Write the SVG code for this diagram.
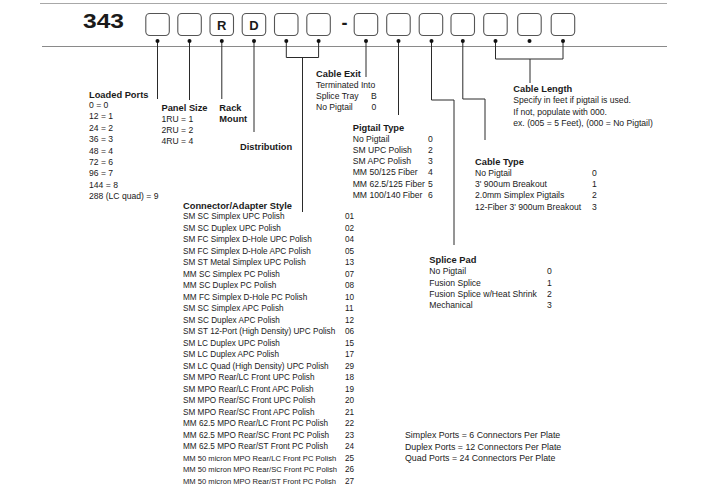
<svg xmlns="http://www.w3.org/2000/svg" width="713" height="492" viewBox="0 0 713 492">
<style>
text{font-family:"Liberation Sans",Arial,Helvetica,sans-serif;fill:#1a1a1a}
.t{font-size:9.3px;font-weight:bold}
.b{font-size:8.6px}
.c{font-size:8.2px}
.cs{font-size:7.6px}
.n{font-size:8.8px}
.box{fill:#fff;stroke:#555;stroke-width:1.1}
.bl{font-size:13px;font-weight:bold;text-anchor:middle}
.ln{fill:none;stroke:#2a2a2a;stroke-width:1}
.dot{fill:#111}
</style>
<rect width="713" height="492" fill="#fff"/>
<g id="rules">
<line x1="40" y1="3.5" x2="667" y2="3.5" stroke="#a8a8a8" stroke-width="1"/>
<line x1="42" y1="46.5" x2="667" y2="46.5" stroke="#8a8a8a" stroke-width="1"/>
</g>
<g id="prefix"><text x="83" y="28" font-size="20" font-weight="bold" textLength="41" lengthAdjust="spacingAndGlyphs">343</text></g>
<g id="boxes">
<g id="box1"><rect class="box" x="145.8" y="13.5" width="23.5" height="22" rx="4"/></g>
<g id="box2"><rect class="box" x="177.8" y="13.5" width="23.5" height="22" rx="4"/></g>
<g id="box3"><rect class="box" x="210" y="13.5" width="23.5" height="22" rx="4"/><text class="bl" x="221.8" y="29.5">R</text></g>
<g id="box4"><rect class="box" x="242.2" y="13.5" width="23.5" height="22" rx="4"/><text class="bl" x="254" y="29.5">D</text></g>
<g id="box5"><rect class="box" x="274.5" y="13.5" width="23.5" height="22" rx="4"/></g>
<g id="box6"><rect class="box" x="306.8" y="13.5" width="23.5" height="22" rx="4"/></g>
<g id="dash"><text x="344.5" y="28.5" font-size="18" font-weight="bold" text-anchor="middle">-</text></g>
<g id="box7"><rect class="box" x="354.2" y="13.5" width="23.5" height="22" rx="4"/></g>
<g id="box8"><rect class="box" x="386.7" y="13.5" width="23.5" height="22" rx="4"/></g>
<g id="box9"><rect class="box" x="419.2" y="13.5" width="23.5" height="22" rx="4"/></g>
<g id="box10"><rect class="box" x="451" y="13.5" width="23.5" height="22" rx="4"/></g>
<g id="box11"><rect class="box" x="483.7" y="13.5" width="23.5" height="22" rx="4"/></g>
<g id="box12"><rect class="box" x="517.7" y="13.5" width="23.5" height="22" rx="4"/></g>
<g id="box13"><rect class="box" x="551.2" y="13.5" width="23.5" height="22" rx="4"/></g>
</g>
<g id="connectors">
<path class="ln" d="M157.5 41V99"/>
<path class="ln" d="M189.5 41V100"/>
<path class="ln" d="M221.8 41V99"/>
<path class="ln" d="M254 41V132"/>
<path class="ln" d="M286.3 41V57.5H318.6V41M302.5 57.5V212"/>
<path class="ln" d="M366 41V77"/>
<path class="ln" d="M398.5 41V115"/>
<path class="ln" d="M431.5 41V100H454V245"/>
<path class="ln" d="M462.8 41V99H485V140"/>
<path class="ln" d="M495.5 41V59H563V41M530 59V83"/>
<circle class="dot" cx="157.5" cy="41" r="2"/>
<circle class="dot" cx="189.5" cy="41" r="2"/>
<circle class="dot" cx="221.8" cy="41" r="2"/>
<circle class="dot" cx="254" cy="41" r="2"/>
<circle class="dot" cx="286.3" cy="41" r="2"/>
<circle class="dot" cx="318.6" cy="41" r="2"/>
<circle class="dot" cx="366" cy="41" r="2"/>
<circle class="dot" cx="398.5" cy="41" r="2"/>
<circle class="dot" cx="431.5" cy="41" r="2"/>
<circle class="dot" cx="462.8" cy="41" r="2"/>
<circle class="dot" cx="495.5" cy="41" r="2"/>
<circle class="dot" cx="529.5" cy="41" r="2"/>
<circle class="dot" cx="563" cy="41" r="2"/>
</g>
<g id="loaded-ports">
<text class="t" x="89" y="98.3">Loaded Ports</text>
<text class="b" x="89" y="108">0 = 0</text>
<text class="b" x="89" y="119.4">12 = 1</text>
<text class="b" x="89" y="130.8">24 = 2</text>
<text class="b" x="89" y="142.2">36 = 3</text>
<text class="b" x="89" y="153.6">48 = 4</text>
<text class="b" x="89" y="165">72 = 6</text>
<text class="b" x="89" y="176.4">96 = 7</text>
<text class="b" x="89" y="187.8">144 = 8</text>
<text class="b" x="89" y="199.2">288 (LC quad) = 9</text>
</g>
<g id="panel-size">
<text class="t" x="161.5" y="110.7">Panel Size</text>
<text class="b" x="161.5" y="121.7">1RU = 1</text>
<text class="b" x="161.5" y="132.7">2RU = 2</text>
<text class="b" x="161.5" y="143.5">4RU = 4</text>
</g>
<g id="rack-mount">
<text class="t" x="219.3" y="110.7">Rack</text>
<text class="t" x="219.3" y="121.7">Mount</text>
</g>
<g id="distribution"><text class="t" x="240" y="150">Distribution</text></g>
<g id="cable-exit">
<text class="t" x="316" y="76.7">Cable Exit</text>
<text class="b" x="316" y="87.7">Terminated Into</text>
<text class="b" x="316" y="99">Splice Tray</text><text class="b" x="371" y="99">B</text>
<text class="b" x="316" y="110.2">No Pigtail</text><text class="b" x="371.5" y="110.2">0</text>
</g>
<g id="pigtail-type">
<text class="t" x="352.7" y="130.7">Pigtail Type</text>
<text class="b" x="352.7" y="141.7">No Pigtail</text><text class="b" x="428" y="141.7">0</text>
<text class="b" x="352.7" y="152.9">SM UPC Polish</text><text class="b" x="428" y="152.9">2</text>
<text class="b" x="352.7" y="164.1">SM APC Polish</text><text class="b" x="428" y="164.1">3</text>
<text class="b" x="352.7" y="175.3">MM 50/125 Fiber</text><text class="b" x="428" y="175.3">4</text>
<text class="b" x="352.7" y="186.5">MM 62.5/125 Fiber</text><text class="b" x="428" y="186.5">5</text>
<text class="b" x="352.7" y="197.7">MM 100/140 Fiber</text><text class="b" x="428" y="197.7">6</text>
</g>
<g id="cable-length">
<text class="t" x="513.3" y="91.7">Cable Length</text>
<text class="b" x="513.3" y="103.3">Specify in feet if pigtail is used.</text>
<text class="b" x="513.3" y="114.5">If not, populate with 000.</text>
<text class="b" x="513.3" y="125.7">ex. (005 = 5 Feet), (000 = No Pigtail)</text>
</g>
<g id="cable-type">
<text class="t" x="475" y="165">Cable Type</text>
<text class="b" x="475" y="176">No Pigtail</text><text class="b" x="592" y="176">0</text>
<text class="b" x="475" y="187.2">3' 900um Breakout</text><text class="b" x="592" y="187.2">1</text>
<text class="b" x="475" y="198.4">2.0mm Simplex Pigtails</text><text class="b" x="592" y="198.4">2</text>
<text class="b" x="475" y="209.6">12-Fiber 3' 900um Breakout</text><text class="b" x="592" y="209.6">3</text>
</g>
<g id="splice-pad">
<text class="t" x="429.3" y="263.3">Splice Pad</text>
<text class="b" x="429.3" y="274.4">No Pigtail</text><text class="b" x="547" y="274.4">0</text>
<text class="b" x="429.3" y="285.7">Fusion Splice</text><text class="b" x="547" y="285.7">1</text>
<text class="b" x="429.3" y="297">Fusion Splice w/Heat Shrink</text><text class="b" x="547" y="297">2</text>
<text class="b" x="429.3" y="308.3">Mechanical</text><text class="b" x="547" y="308.3">3</text>
</g>
<g id="connector-style">
<text class="t" x="183" y="209.3" font-size="9.5">Connector/Adapter Style</text>
<text class="c" x="183" y="219.3">SM SC Simplex UPC Polish</text><text class="c" x="345" y="219.3">01</text>
<text class="c" x="183" y="230.8">SM SC Duplex UPC Polish</text><text class="c" x="345" y="230.8">02</text>
<text class="c" x="183" y="242.3">SM FC Simplex D-Hole UPC Polish</text><text class="c" x="345" y="242.3">04</text>
<text class="c" x="183" y="253.8">SM FC Simplex D-Hole APC Polish</text><text class="c" x="345" y="253.8">05</text>
<text class="c" x="183" y="265.3">SM ST Metal Simplex UPC Polish</text><text class="c" x="345" y="265.3">13</text>
<text class="c" x="183" y="276.8">MM SC Simplex PC Polish</text><text class="c" x="345" y="276.8">07</text>
<text class="c" x="183" y="288.3">MM SC Duplex PC Polish</text><text class="c" x="345" y="288.3">08</text>
<text class="c" x="183" y="299.8">MM FC Simplex D-Hole PC Polish</text><text class="c" x="345" y="299.8">10</text>
<text class="c" x="183" y="311.3">SM SC Simplex APC Polish</text><text class="c" x="345" y="311.3">11</text>
<text class="c" x="183" y="322.8">SM SC Duplex APC Polish</text><text class="c" x="345" y="322.8">12</text>
<text class="c" x="183" y="334.3">SM ST 12-Port (High Density) UPC Polish</text><text class="c" x="345" y="334.3">06</text>
<text class="c" x="183" y="345.8">SM LC Duplex UPC Polish</text><text class="c" x="345" y="345.8">15</text>
<text class="c" x="183" y="357.3">SM LC Duplex APC Polish</text><text class="c" x="345" y="357.3">17</text>
<text class="c" x="183" y="368.8">SM LC Quad (High Density) UPC Polish</text><text class="c" x="345" y="368.8">29</text>
<text class="c" x="183" y="380.3">SM MPO Rear/LC Front UPC Polish</text><text class="c" x="345" y="380.3">18</text>
<text class="c" x="183" y="391.8">SM MPO Rear/LC Front APC Polish</text><text class="c" x="345" y="391.8">19</text>
<text class="c" x="183" y="403.3">SM MPO Rear/SC Front UPC Polish</text><text class="c" x="345" y="403.3">20</text>
<text class="c" x="183" y="414.8">SM MPO Rear/SC Front APC Polish</text><text class="c" x="345" y="414.8">21</text>
<text class="c" x="183" y="426.3">MM 62.5 MPO Rear/LC Front PC Polish</text><text class="c" x="345" y="426.3">22</text>
<text class="c" x="183" y="437.8">MM 62.5 MPO Rear/SC Front PC Polish</text><text class="c" x="345" y="437.8">23</text>
<text class="c" x="183" y="449.3">MM 62.5 MPO Rear/ST Front PC Polish</text><text class="c" x="345" y="449.3">24</text>
<text class="cs" x="183" y="460.8">MM 50 micron MPO Rear/LC Front PC Polish</text><text class="c" x="345" y="460.8">25</text>
<text class="cs" x="183" y="472.3">MM 50 micron MPO Rear/SC Front PC Polish</text><text class="c" x="345" y="472.3">26</text>
<text class="cs" x="183" y="483.8">MM 50 micron MPO Rear/ST Front PC Polish</text><text class="c" x="345" y="483.8">27</text>
</g>
<g id="notes">
<text class="n" x="405" y="438">Simplex Ports = 6 Connectors Per Plate</text>
<text class="n" x="405" y="449.5">Duplex Ports = 12 Connectors Per Plate</text>
<text class="n" x="405" y="461">Quad Ports = 24 Connectors Per Plate</text>
</g>
</svg>
